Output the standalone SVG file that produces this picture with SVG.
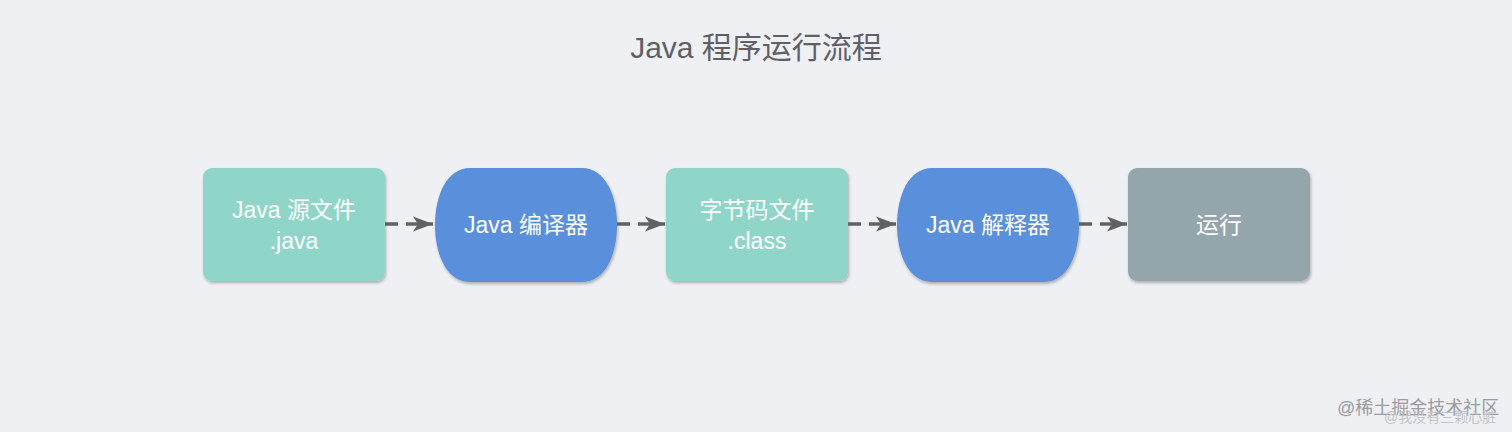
<svg xmlns="http://www.w3.org/2000/svg" width="1512" height="432" viewBox="0 0 1512 432">
  <defs>
    <filter id="sh" x="-10%" y="-10%" width="120%" height="125%">
      <feDropShadow dx="1" dy="2" stdDeviation="1.5" flood-color="#000" flood-opacity="0.28"/>
    </filter>
    <marker id="ah" markerUnits="userSpaceOnUse" markerWidth="22" markerHeight="18" viewBox="0 0 22 18" refX="21" refY="9" orient="auto">
      <path d="M21 9 L1 1.5 L6 9 L1 16.5 Z" fill="#616163"/>
    </marker>
    <style>
      .t { font-family: "Liberation Sans", "Noto Sans CJK SC", sans-serif; fill: #ffffff; font-size: 23px; text-anchor: middle; }
      .teal { fill: #8fd6c9; }
      .blue { fill: #5a8fdb; }
      .gray { fill: #95a5ac; }
      .conn { stroke: #616163; stroke-width: 3.5; fill: none; }
    </style>
  </defs>
  <rect width="1512" height="432" fill="#eff0f4"/>
  <text x="756" y="58" font-family="'Liberation Sans', 'Noto Sans CJK SC', sans-serif" font-size="30" fill="#5f5f66" text-anchor="middle">Java 程序运行流程</text>

  <g id="node-source">
    <rect class="teal" x="203" y="168" width="182" height="113" rx="9" filter="url(#sh)"/>
    <text class="t" x="294" y="218">Java 源文件</text>
    <text class="t" x="294" y="249">.java</text>
  </g>
  <g id="node-compiler">
    <path class="blue" filter="url(#sh)" d="M470 168 H582 C605 168 617 195 617 225 C617 255 605 282 582 282 H470 C447 282 435 255 435 225 C435 195 447 168 470 168 Z"/>
    <text class="t" x="526" y="233">Java 编译器</text>
  </g>
  <g id="node-bytecode">
    <rect class="teal" x="666" y="168" width="182" height="113" rx="9" filter="url(#sh)"/>
    <text class="t" x="757" y="218">字节码文件</text>
    <text class="t" x="757" y="249">.class</text>
  </g>
  <g id="node-interpreter">
    <path class="blue" filter="url(#sh)" d="M932 168 H1044 C1067 168 1079 195 1079 225 C1079 255 1067 282 1044 282 H932 C909 282 897 255 897 225 C897 195 909 168 932 168 Z"/>
    <text class="t" x="988" y="233">Java 解释器</text>
  </g>
  <g id="node-run">
    <rect class="gray" x="1128" y="168" width="182" height="113" rx="9" filter="url(#sh)"/>
    <text class="t" x="1219" y="233">运行</text>
  </g>

  <g id="connectors">
    <path class="conn" d="M385 224 H398 M406 224 H433" marker-end="url(#ah)"/>
    <path class="conn" d="M617 224 H630 M638 224 H665" marker-end="url(#ah)"/>
    <path class="conn" d="M848 224 H861 M869 224 H896" marker-end="url(#ah)"/>
    <path class="conn" d="M1079 224 H1092 M1100 224 H1127" marker-end="url(#ah)"/>
  </g>

  <g id="watermark" font-family="'Liberation Sans', 'Noto Sans CJK SC', sans-serif">
    <text x="1337" y="414" font-size="18" fill="#9c9ca0">@稀土掘金技术社区</text>
    <text x="1384" y="422" font-size="14" fill="#c4c4c8">@我没有三颗心脏</text>
  </g>
</svg>
